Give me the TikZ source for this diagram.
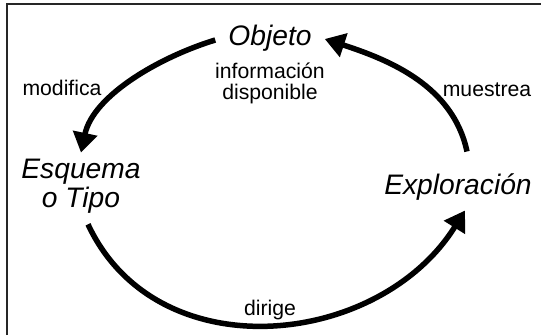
\documentclass[tikz,border=0pt]{standalone}
\usepackage{fontspec}
\setmainfont{Liberation Sans}
\usetikzlibrary{arrows.meta, positioning}
\tikzset{
  concept/.style={font=\fontsize{28.2}{29}\selectfont\itshape, align=center, inner sep=6pt},
  note/.style={font=\fontsize{21.2}{21}\selectfont, align=center, inner sep=2pt},
  cycle/.style={-{Triangle[length=20pt, width=24pt]}, line width=5.5pt},
  frame/.style={line width=2pt, draw=black!85},
}

\begin{document}
\begin{tikzpicture}[x=1pt, y=1pt]
  \useasboundingbox (0,0) rectangle (541,335);
  % frame
  \draw[frame] (7,0) -- (7,331) -- (541,331);
  % concepts
  \node[concept] (obj) at (270,297) {Objeto};
  \node[concept] (esq) at (81,149) {Esquema\\o Tipo};
  \node[concept] (exp) at (458,148) {Exploración};
  \node[note, below=3pt of obj] (info) {información\\disponible};
  % the cycle
  \draw[cycle] ([xshift=-7pt, yshift=-2pt]obj.west) to[out=197, in=78, looseness=0.85] (esq.north);
  \draw[cycle] ([xshift=7pt, yshift=-5pt]esq.south) to[out=-65, in=238, looseness=1.1] node[note, pos=0.5, above=0pt] (dir) {dirige} ([xshift=7pt, yshift=-4pt]exp.south);
  \draw[cycle] ([xshift=9pt, yshift=16pt]exp.north) to[out=102, in=-18, looseness=0.95] ([xshift=7pt, yshift=-1pt]obj.east);
  % verbs
  \node[note] (mod) at (62,247) {modifica};
  \node[note] (mue) at (487,245) {muestrea};
\end{tikzpicture}
\end{document}
